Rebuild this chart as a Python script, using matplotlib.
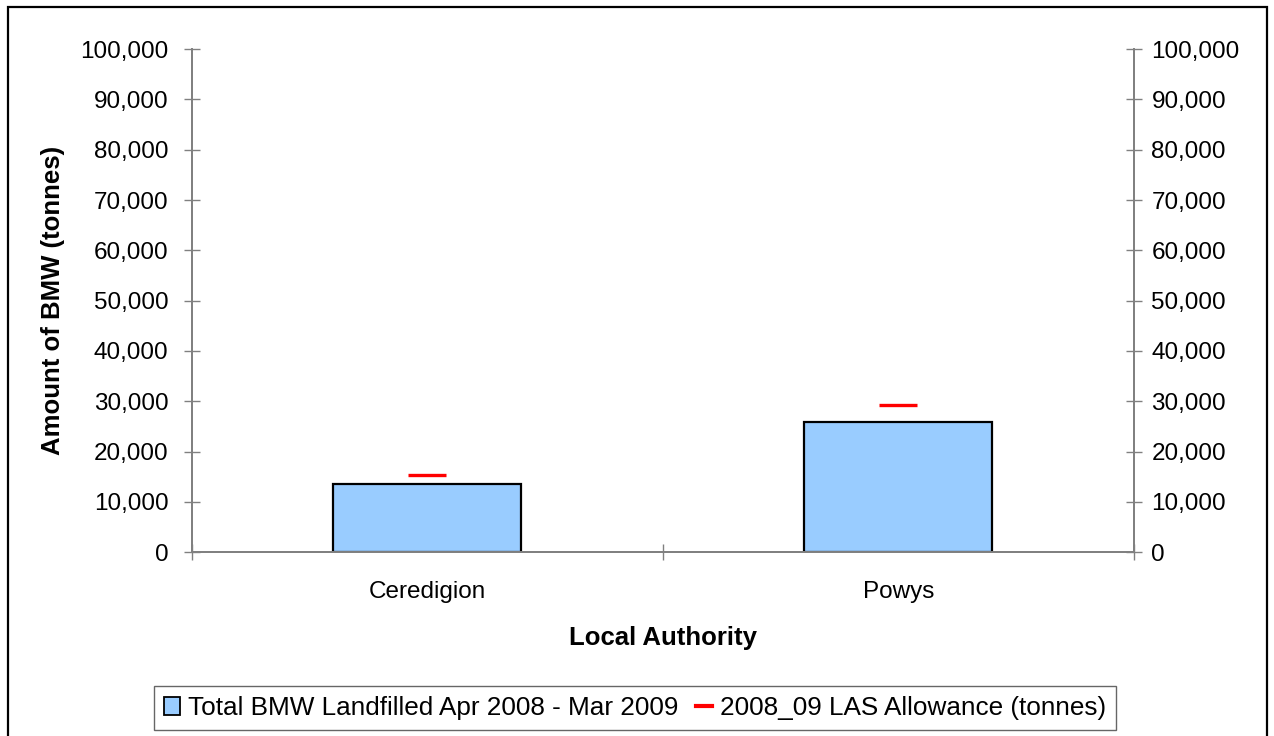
import matplotlib.pyplot as plt
import matplotlib.patches as mpatches
from matplotlib.lines import Line2D
from matplotlib.ticker import FuncFormatter
import numpy as np

plt.rcParams['font.family'] = ['Liberation Sans', 'DejaVu Sans']

# dane
authorities = ['Ceredigion', 'Powys']
landfilled = [13500, 25800]
allowance = [15350, 29200]
bar_label = 'Total BMW Landfilled Apr 2008 - Mar 2009'
line_label = '2008_09 LAS Allowance (tonnes)'

fig = plt.figure(figsize=(12.74, 7.36), dpi=100)
ax = fig.add_axes([0.1505, 0.2496, 0.7394, 0.6838])

x = np.arange(len(authorities))
ax.bar(x, landfilled, width=0.4, color='#99CCFF', edgecolor='black', linewidth=1.6, zorder=2)
ax.plot(x, allowance, linestyle='none', marker='_', markersize=27,
        markeredgewidth=2.4, color='#FF0000', zorder=3)

ax.set_xlim(-0.5, len(authorities) - 0.5)
ax.set_ylim(0, 100000)
yticks = np.arange(0, 100001, 10000)
fmt = FuncFormatter(lambda v, p: f'{int(v):,}')
ax.set_yticks(yticks)
ax.yaxis.set_major_formatter(fmt)

# prawa os z tymi samymi wartosciami
ax2 = ax.twinx()
ax2.set_ylim(ax.get_ylim())
ax2.set_yticks(yticks)
ax2.yaxis.set_major_formatter(fmt)

ax.set_xticks(x)
ax.set_xticklabels(authorities)
ax.set_xticks(np.arange(-0.5, len(authorities), 1), minor=True)

gray = '#808080'
for a in (ax, ax2):
    a.spines['top'].set_visible(False)
    for s in ['left', 'right', 'bottom']:
        a.spines[s].set_color(gray)
        a.spines[s].set_linewidth(1.3)

ax.tick_params(axis='y', direction='inout', length=11.5, width=1.0, color=gray,
               labelsize=17.5, pad=11)
ax2.tick_params(axis='y', direction='inout', length=11.5, width=1.0, color=gray,
                labelsize=17.5, pad=7)
ax.tick_params(axis='x', which='major', length=0, labelsize=17.5, pad=21)
ax.tick_params(axis='x', which='minor', direction='inout', length=11.5,
               width=1.0, color=gray)

ax.set_ylabel('Amount of BMW (tonnes)', fontsize=18.5, fontweight='bold', labelpad=11)
ax.set_xlabel('Local Authority', fontsize=18.5, fontweight='bold', labelpad=16)

handles = [mpatches.Patch(facecolor='#99CCFF', edgecolor='black', linewidth=1.3),
           Line2D([], [], color='#FF0000', linewidth=3)]
leg = fig.legend(handles, [bar_label, line_label], loc='center',
                 bbox_to_anchor=(635 / 1274, 1 - 708 / 736), ncol=2,
                 fontsize=18.8, frameon=True, fancybox=False, edgecolor='#404040',
                 handlelength=0.6, handleheight=0.7, handletextpad=0.3,
                 columnspacing=0.7, borderpad=0.4, borderaxespad=0)
leg.get_frame().set_linewidth(1.0)

# ramka wokol wykresu
fig.patches.append(mpatches.Rectangle((8 / 1274, -0.05), 1259 / 1274, 1.05 - 7 / 736,
                                      transform=fig.transFigure, fill=False,
                                      edgecolor='black', linewidth=1.6))

fig.savefig('out.png', dpi=100)
